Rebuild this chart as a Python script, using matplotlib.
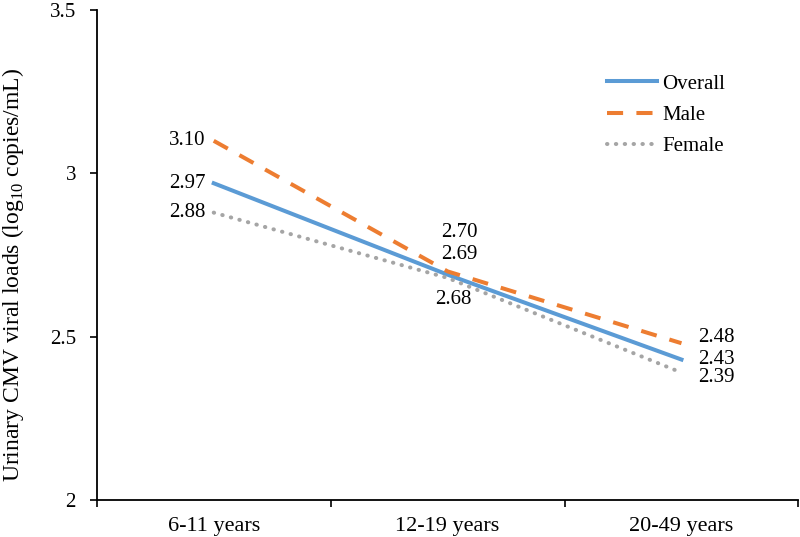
import matplotlib.pyplot as plt
import numpy as np

plt.rcParams['font.family'] = 'Liberation Serif'
plt.rcParams['mathtext.fontset'] = 'custom'
plt.rcParams['mathtext.rm'] = 'Liberation Serif'

# datos
categorias = ['6-11 years', '12-19 years', '20-49 years']
overall = [2.97, 2.69, 2.43]
male = [3.10, 2.70, 2.48]
female = [2.88, 2.68, 2.39]

# desplazamiento de cada etiqueta (puntos) respecto a su punto
off_overall = [(-6, 0, 'right'), (8.6, 14.7, 'center'), (12, 0, 'left')]
off_male = [(-6, 0, 'right'), (8.6, 28, 'center'), (12, 4, 'left')]
off_female = [(-6, 0, 'right'), (4, -15.5, 'center'), (12, -3.5, 'left')]

fig = plt.figure(figsize=(8, 5.37), dpi=100)
ax = fig.add_axes([0.121, 0.069, 0.877, 0.912])

x = np.arange(len(categorias))
lw = 2.9
ax.plot(x, overall, '-', color='#5B9BD5', lw=lw, label='Overall')
ax.plot(x, male, color='#ED7D31', lw=lw, dashes=(4, 3.3), label='Male')
ax.plot(x, female, color='#A5A5A5', lw=lw, dashes=(0.1, 2.1), dash_capstyle='round', label='Female')

# etiquetas de valores
fs = 15
for serie, offs in [(male, off_male), (overall, off_overall), (female, off_female)]:
    for i, v in enumerate(serie):
        dx, dy, ha = offs[i]
        ax.annotate(f'{v:.2f}', (x[i], v), xytext=(dx, dy), textcoords='offset points',
                    ha=ha, va='center', fontsize=fs)

ax.set_xlim(-0.5, 2.5)
ax.set_ylim(2, 3.5)
ax.set_yticks([2, 2.5, 3, 3.5])
ax.set_yticklabels(['2', '2.5', '3', '3.5'], fontsize=fs)
ax.set_xticks([-0.5, 0.5, 1.5, 2.5])
ax.set_xticklabels([])
ax.set_xticks(x, minor=True)
ax.set_xticklabels(categorias, minor=True, fontsize=16)
ax.tick_params(axis='x', which='minor', length=0, pad=12)
ax.tick_params(axis='both', which='major', direction='out', length=5, width=1.2, pad=10)

for s in ['top', 'right']:
    ax.spines[s].set_visible(False)
for s in ['left', 'bottom']:
    ax.spines[s].set_linewidth(1.3)

ax.set_ylabel('Urinary CMV viral loads (log$_{\\mathregular{10}}$ copies/mL)', fontsize=17)
ax.yaxis.set_label_coords(-0.101, 0.46)

leg = ax.legend(loc='center left', bbox_to_anchor=(0.7275, 0.786), frameon=False, fontsize=fs,
                handlelength=2.4, handletextpad=0.25, labelspacing=0.55,
                borderpad=0, borderaxespad=0)

fig.savefig('out.png', dpi=100)
